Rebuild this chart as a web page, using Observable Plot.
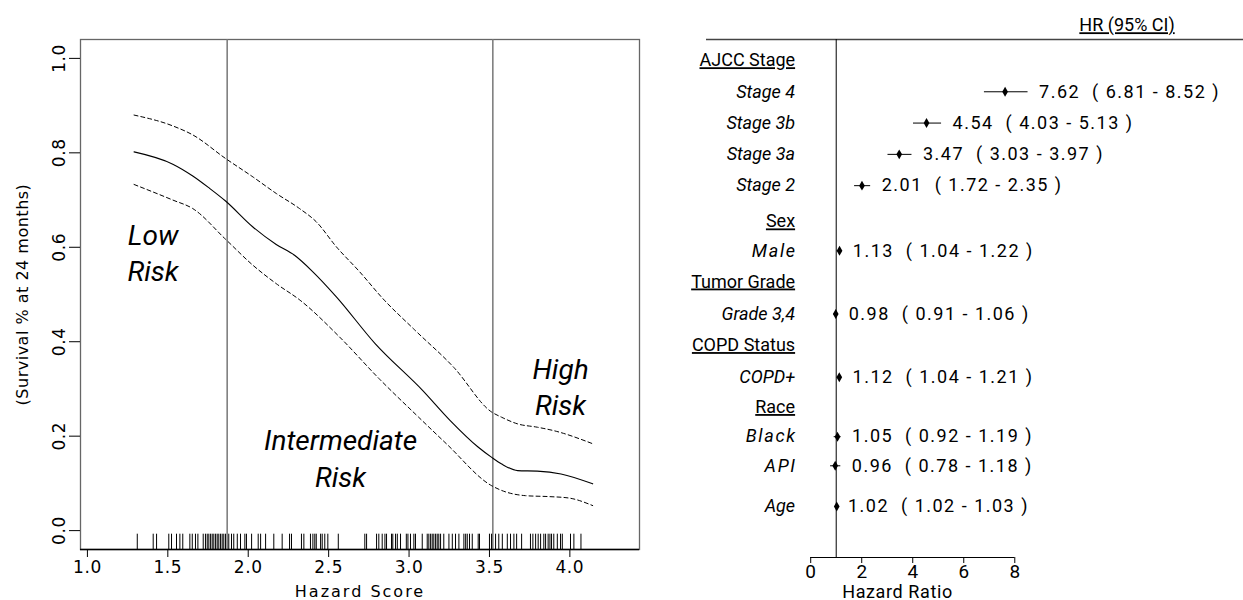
<!DOCTYPE html>
<html><head><meta charset="utf-8">
<script src="https://cdn.jsdelivr.net/npm/d3@7"></script>
<script src="https://cdn.jsdelivr.net/npm/@observablehq/plot@0.6"></script>
<style>
body{margin:0;background:#fff;}
#wrap{position:relative;width:1243px;height:600px;overflow:hidden;background:#fff;}
#left{position:absolute;left:0;top:0;}
#right{position:absolute;left:660px;top:0;}
</style></head><body><div id="wrap"><div id="left"></div><div id="right"></div></div>
<script>
// ---------- Left panel data: survival at 24 months vs hazard score ----------
const estX = [1.29,1.531,1.655,1.759,1.859,2.029,2.174,2.288,2.402,2.548,2.789,3.084,3.256,3.429,3.514,3.576,3.675,3.797,3.945,4.142];
const estY = [0.802,0.776,0.751,0.725,0.698,0.643,0.606,0.583,0.548,0.495,0.396,0.297,0.233,0.177,0.155,0.141,0.127,0.126,0.120,0.099];
const upX = [1.29,1.531,1.655,1.859,2.029,2.174,2.319,2.423,2.548,2.693,2.838,3.035,3.28,3.514,3.576,3.675,3.797,3.896,4.142];
const upY = [0.880,0.857,0.838,0.788,0.749,0.714,0.682,0.654,0.601,0.548,0.491,0.425,0.345,0.251,0.240,0.226,0.219,0.212,0.184];
const loX = [1.29,1.531,1.655,1.859,2.029,2.174,2.322,2.568,2.813,3.060,3.232,3.514,3.576,3.724,3.871,3.994,4.142];
const loY = [0.733,0.700,0.682,0.617,0.562,0.523,0.488,0.410,0.322,0.240,0.184,0.095,0.085,0.074,0.072,0.069,0.053];
const rugScores = [1.310,1.409,1.430,1.506,1.523,1.554,1.575,1.593,1.637,1.652,1.672,1.687,1.720,1.734,1.745,1.755,1.766,1.776,1.786,1.797,1.807,1.817,1.828,1.838,1.848,1.859,1.879,1.896,1.910,1.932,1.952,1.979,1.989,2.021,2.062,2.077,2.108,2.159,2.211,2.257,2.269,2.331,2.346,2.387,2.402,2.414,2.423,2.450,2.460,2.476,2.495,2.560,2.725,2.736,2.798,2.812,2.833,2.850,2.860,2.891,2.899,2.916,2.927,2.947,2.983,2.993,3.009,3.030,3.040,3.082,3.113,3.123,3.134,3.144,3.154,3.165,3.175,3.185,3.196,3.216,3.248,3.269,3.289,3.310,3.341,3.352,3.362,3.376,3.393,3.430,3.438,3.500,3.513,3.538,3.558,3.580,3.611,3.631,3.652,3.669,3.700,3.755,3.770,3.787,3.803,3.818,3.838,3.849,3.865,3.876,3.886,3.900,3.922,3.942,3.953,4.004,4.025,4.069];
const cutoffs = [1.869, 3.521];
const zoneText = ["Low\nRisk", "Intermediate\nRisk", "High\nRisk"];
const zoneX = [1.408, 2.574, 3.942];
const zoneY = [0.591, 0.156, 0.3075];
const scoreTicks = [1, 1.5, 2, 2.5, 3, 3.5, 4];
const survTicks = [0, 0.2, 0.4, 0.6, 0.8, 1];

// ---------- Right panel data: forest plot ----------
const rowLabels = ["AJCC Stage","Stage 4","Stage 3b","Stage 3a","Stage 2","Sex","Male","Tumor Grade","Grade 3,4","COPD Status","COPD+","Race","Black","API","Age"];
const rowHeader = [true,false,false,false,false,true,false,true,false,true,false,true,false,false,false];
const rowPos = [0,1,2,3,4,5.15,6.08,7.07,8.1,9.1,10.12,11.08,12.02,12.95,14.25];
const hrEst = [null,7.62,4.54,3.47,2.01,null,1.13,null,0.98,null,1.12,null,1.05,0.96,1.02];
const hrLow = [null,6.81,4.03,3.03,1.72,null,1.04,null,0.91,null,1.04,null,0.92,0.78,1.02];
const hrHigh = [null,8.52,5.13,3.97,2.35,null,1.22,null,1.06,null,1.21,null,1.19,1.18,1.03];
const spacedLabels = ["Male","Black","API"];
const hrTicks = [0, 2, 4, 6, 8];

// ---------- build tables ----------
const est = estX.map((x,i)=>({x, y: estY[i]}));
const up = upX.map((x,i)=>({x, y: upY[i]}));
const lo = loX.map((x,i)=>({x, y: loY[i]}));
const zones = zoneText.map((t,i)=>({t, x: zoneX[i], y: zoneY[i]}));
const rows = rowLabels.map((label,i)=>({label, header: rowHeader[i], pos: rowPos[i], hr: hrEst[i], lo: hrLow[i], hi: hrHigh[i]}));
const estRows = rows.filter(r => r.hr != null);
const nb = "\u00a0";
const f2 = d3.format(".2f");

const yDom = [-0.04, 1.04];
const rugLen = 0.03 * (yDom[1] - yDom[0]);

const left = Plot.plot({
  width: 660, height: 600,
  marginLeft: 80, marginRight: 21, marginTop: 39, marginBottom: 51,
  x: {domain: [0.957, 4.433]},
  y: {domain: yDom},
  style: {fontFamily: "DejaVu Sans", fontSize: "16px", color: "#000", background: "#fff"},
  marks: [
    Plot.frame({stroke: "#666", strokeWidth: 1.3}),
    Plot.ruleX(cutoffs, {stroke: "#777", strokeWidth: 1.5}),
    Plot.line(est, {x: "x", y: "y", stroke: "#000", strokeWidth: 1.1, curve: "monotone-x"}),
    Plot.line(up, {x: "x", y: "y", stroke: "#000", strokeWidth: 1, strokeDasharray: "4,3", curve: "monotone-x"}),
    Plot.line(lo, {x: "x", y: "y", stroke: "#000", strokeWidth: 1, strokeDasharray: "4,3", curve: "monotone-x"}),
    Plot.ruleX(rugScores, {y1: yDom[0], y2: yDom[0] + rugLen, stroke: "#000", strokeWidth: 1}),
    Plot.ruleY([yDom[0]], {stroke: "#000", strokeWidth: 1.3}),
    Plot.axisX({ticks: scoreTicks, tickSize: 8, tickPadding: 3, tickFormat: d3.format(".1f"), label: null}),
    Plot.axisY({ticks: survTicks, tickSize: 11, tickRotate: -90, tickPadding: 5, tickFormat: d3.format(".1f"), label: null}),
    Plot.text(["Hazard Score"], {frameAnchor: "bottom", dy: 42, textAnchor: "middle", lineAnchor: "middle", fontSize: 16, ariaDescription: "xtitle"}),
    Plot.text(["(Survival % at 24 months)"], {frameAnchor: "left", dx: -58, rotate: -90, textAnchor: "middle", lineAnchor: "middle", fontSize: 16, ariaDescription: "ytitle"}),
    Plot.text(zones, {x: "x", y: "y", text: "t", fontFamily: "Roboto", fontStyle: "italic", fontSize: 28, lineHeight: 1.3, textAnchor: "middle", lineAnchor: "middle"})
  ]
});
document.getElementById("left").appendChild(left);

const yRowDom = [-0.67, 15.88];
const right = Plot.plot({
  width: 583, height: 600,
  marginLeft: 46, marginRight: 0, marginTop: 39, marginBottom: 43,
  x: {domain: [-4.085, 16.966]},
  y: {domain: yRowDom, reverse: true, axis: null},
  style: {fontFamily: "Roboto", fontSize: "18px", color: "#000", background: "#fff"},
  marks: [
    Plot.ruleY([yRowDom[0]], {stroke: "#444", strokeWidth: 1.3}),
    Plot.ruleX([1], {stroke: "#000", strokeWidth: 1}),
    Plot.ruleY([yRowDom[1]], {x1: hrTicks[0], x2: hrTicks[hrTicks.length - 1], stroke: "#000", strokeWidth: 1}),
    Plot.axisX({ticks: hrTicks, tickSize: 6, tickPadding: 1, label: null}),
    Plot.ruleY(estRows, {y: "pos", x1: "lo", x2: "hi", stroke: "#000", strokeWidth: 1}),
    Plot.dot(estRows, {x: "hr", y: "pos", symbol: "diamond", r: 3, fill: "#000", stroke: "none"}),
    Plot.text(estRows, {x: "hi", y: "pos", dx: 11, textAnchor: "start",
      text: d => `${f2(d.hr)}${nb}${nb}(${nb}${f2(d.lo)}${nb}-${nb}${f2(d.hi)}${nb})`, ariaDescription: "hrtext"}),
    Plot.text(rows.filter(r => r.header), {y: "pos", text: "label", frameAnchor: "left", dx: 88.6, textAnchor: "end", lineAnchor: "middle", ariaDescription: "groupheader"}),
    Plot.text(rows.filter(r => !r.header && !spacedLabels.includes(r.label)), {y: "pos", text: "label", frameAnchor: "left", dx: 88.6, textAnchor: "end", lineAnchor: "middle", fontStyle: "italic"}),
    Plot.text(rows.filter(r => spacedLabels.includes(r.label)), {y: "pos", text: "label", frameAnchor: "left", dx: 90.3, textAnchor: "end", lineAnchor: "middle", fontStyle: "italic", ariaDescription: "spaced"}),
    Plot.text(["HR (95% CI)"], {frameAnchor: "top", dx: 152, dy: -14, textAnchor: "middle", lineAnchor: "middle", ariaDescription: "groupheader"}),
    Plot.text(["Hazard Ratio"], {frameAnchor: "bottom", dx: -77.5, dy: 35, textAnchor: "middle", lineAnchor: "middle", ariaDescription: "hrtitle"})
  ]
});
document.getElementById("right").appendChild(right);

function styleGroup(svg, label, prop, val) {
  svg.querySelectorAll(`g[aria-description="${label}"] text`).forEach(t => t.style.setProperty(prop, val));
}
function styleMatching(svg, re, props) {
  svg.querySelectorAll("text").forEach(t => {
    if (re.test(t.textContent.trim())) for (const [k, v] of Object.entries(props)) t.style.setProperty(k, v);
  });
}
styleGroup(right, "groupheader", "text-decoration", "underline");
styleGroup(right, "spaced", "letter-spacing", "1.7px");
styleGroup(right, "hrtext", "letter-spacing", "1.5px");
styleGroup(right, "hrtitle", "letter-spacing", "0.6px");
styleGroup(left, "xtitle", "letter-spacing", "2px");
styleGroup(left, "ytitle", "letter-spacing", "0.5px");
// tick labels (axis text) sized like the reference
styleMatching(left, /^\d\.\d$/, {"font-size": "17px", "letter-spacing": "0.6px"});
styleMatching(right, /^\d$/, {"font-size": "19px"});
</script></body></html>
